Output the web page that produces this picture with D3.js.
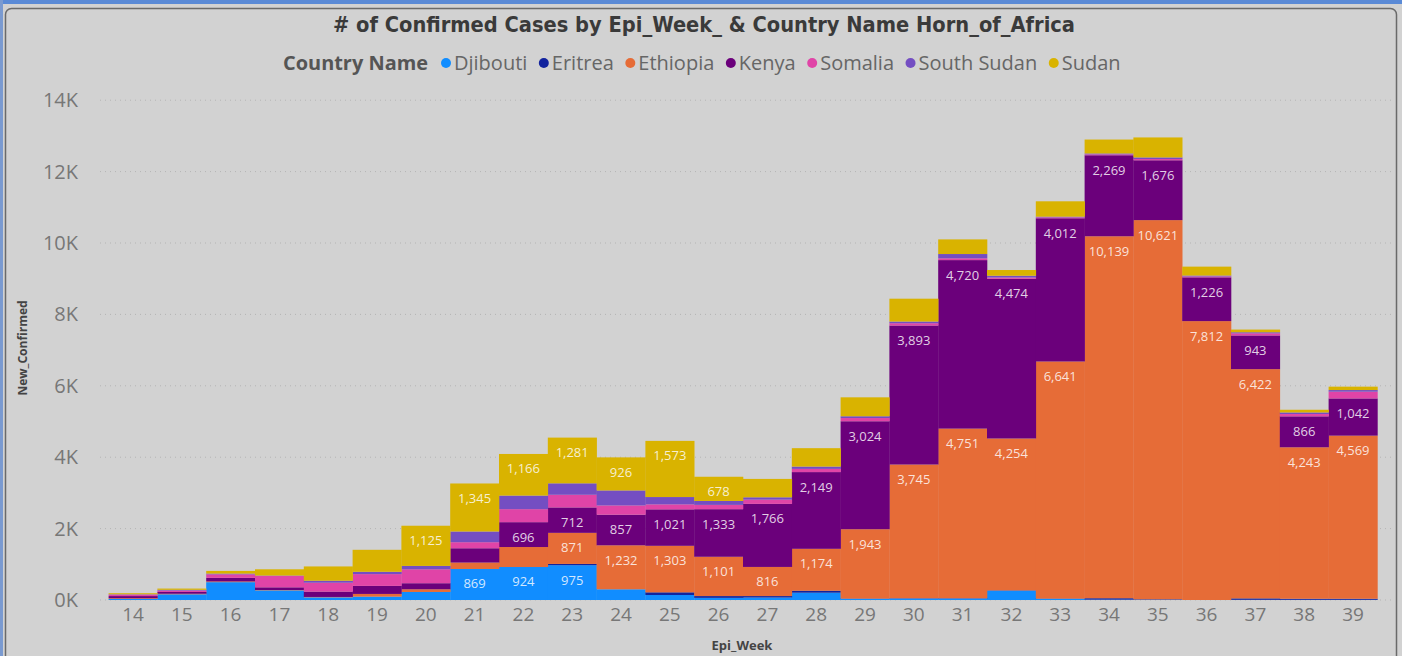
<!DOCTYPE html>
<html><head><meta charset="utf-8">
<script src="https://cdn.jsdelivr.net/npm/d3@7"></script>
<style>
html,body{margin:0;padding:0;background:#d2d2d2;overflow:hidden;}
svg{display:block;}
</style></head>
<body>
<svg id="chart" width="1402" height="656"></svg>
<script>
const weeks = ["14","15","16","17","18","19","20","21","22","23","24","25","26","27","28","29","30","31","32","33","34","35","36","37","38","39"];
const countries = ["Djibouti","Eritrea","Ethiopia","Kenya","Somalia","South Sudan","Sudan"];
const colors = ["#118DFF","#12239E","#E66C37","#6B007B","#E044A7","#744EC2","#D9B300"];
const djibouti   = [30,160,500,270,75,95,225,869,924,975,300,140,60,70,205,30,40,40,260,30,10,5,0,5,5,5];
const eritrea    = [0,0,0,0,0,0,0,0,0,35,0,75,50,40,55,10,10,10,10,10,40,15,0,40,30,30];
const ethiopia   = [20,15,20,10,10,75,75,180,560,871,1232,1303,1101,816,1174,1943,3745,4751,4254,6641,10139,10621,7812,6422,4243,4569];
const kenya      = [60,50,100,75,150,225,170,400,696,712,857,1021,1333,1766,2149,3024,3893,4720,4474,4012,2269,1676,1226,943,866,1042];
const somalia    = [40,40,100,320,250,330,390,170,365,355,260,140,120,120,90,90,65,50,35,25,25,35,25,60,65,190];
const southSudan = [10,20,20,10,55,65,95,300,380,320,420,205,110,65,65,50,47,120,50,20,25,45,25,30,45,45];
const sudan      = [30,35,75,175,400,616,1125,1345,1166,1281,926,1573,678,515,515,530,640,410,160,430,390,560,250,75,75,95];
const yTicks = [0,2000,4000,6000,8000,10000,12000,14000];
const seriesValues = [djibouti,eritrea,ethiopia,kenya,somalia,southSudan,sudan];

const svg = d3.select("#chart");
// frame
svg.append("rect").attr("x",0).attr("y",0).attr("width",1402).attr("height",4).attr("fill","#5a8ad6");
svg.append("rect").attr("x",0).attr("y",0).attr("width",3).attr("height",656).attr("fill","#7a9ad0");
svg.append("rect").attr("x",5.5).attr("y",8.5).attr("width",1391).attr("height",660).attr("rx",6)
  .attr("fill","#d2d2d2").attr("stroke","#6a6a6a").attr("stroke-width",1.5);

const rows = weeks.map((w,i)=>{const r={week:w}; countries.forEach((c,j)=>r[c]=seriesValues[j][i]); return r;});
const stack = d3.stack().keys(countries)(rows);

const x = d3.scaleBand().domain(weeks).range([108.6,1377.4]).padding(0);
const y = d3.scaleLinear().domain([0,14000]).range([600,100.2]);
const color = d3.scaleOrdinal().domain(countries).range(colors);

// gridlines
svg.append("g").selectAll("line").data(yTicks).join("line")
  .attr("x1",100).attr("x2",1392).attr("y1",d=>y(d)).attr("y2",d=>y(d))
  .attr("stroke","#b4b4b4").attr("stroke-width",1).attr("stroke-dasharray","1,4");

// bars
svg.append("g").selectAll("g").data(stack).join("g").attr("fill",d=>color(d.key))
  .selectAll("rect").data(d=>d).join("rect")
  .attr("x",d=>x(d.data.week)).attr("width",x.bandwidth()+0.3)
  .attr("y",d=>y(d[1])).attr("height",d=>Math.max(0,y(d[0])-y(d[1])));

// data labels
const lab = svg.append("g").attr("font-family","'Open Sans','Noto Sans',sans-serif").attr("font-size",13)
  .attr("text-anchor","middle").attr("fill","#ffffff").attr("fill-opacity",0.82);
stack.forEach(s=>{
  s.forEach(d=>{
    const v = d[1]-d[0];
    if (v >= 650) {
      lab.append("text").attr("x",x(d.data.week)+x.bandwidth()/2).attr("y",y(d[1])+16)
        .attr("dominant-baseline","middle").text(d3.format(",")(v));
    }
  });
});

// y axis
const yAxis = svg.append("g").attr("transform","translate(78,0)")
  .call(d3.axisLeft(y).tickValues(yTicks).tickSize(0).tickPadding(0).tickFormat(d=>(d/1000)+"K"));
yAxis.select(".domain").remove();
yAxis.selectAll("text").attr("font-family","'Open Sans','Noto Sans',sans-serif").attr("font-size",20).attr("fill","#777");

// x axis
const xAxis = svg.append("g").attr("transform","translate(0,607)")
  .call(d3.axisBottom(x).tickSize(0).tickPadding(0));
xAxis.select(".domain").remove();
xAxis.selectAll("text").attr("font-family","'Open Sans','Noto Sans',sans-serif").attr("font-size",19).attr("fill","#777").attr("dy","0.75em");

// axis titles
svg.append("text").attr("x",742).attr("y",650).attr("text-anchor","middle")
  .attr("font-family","'Open Sans','Noto Sans',sans-serif").attr("font-weight","bold").attr("font-size",13).attr("fill","#444").text("Epi_Week");
svg.append("text").attr("transform","translate(27,348) rotate(-90)").attr("text-anchor","middle")
  .attr("font-family","'Open Sans','Noto Sans',sans-serif").attr("font-weight","bold").attr("font-size",12).attr("fill","#444").text("New_Confirmed");

// title
svg.append("text").attr("x",704).attr("y",32).attr("text-anchor","middle")
  .attr("font-family","'DejaVu Sans Condensed','Liberation Sans Narrow','Roboto',sans-serif").attr("font-weight","bold")
  .attr("font-size",21).attr("fill","#3a3a3a")
  .attr("textLength",742).attr("lengthAdjust","spacingAndGlyphs")
  .text("# of Confirmed Cases by Epi_Week_ & Country Name Horn_of_Africa");

// legend
const lg = svg.append("g").attr("font-family","'Open Sans','Noto Sans',sans-serif").attr("font-size",20);
lg.append("text").attr("x",283).attr("y",70).attr("font-weight","bold").attr("fill","#555")
  .attr("textLength",145).attr("lengthAdjust","spacingAndGlyphs").text("Country Name");
let lx = 446;
countries.forEach((c,i)=>{
  lg.append("circle").attr("cx",lx).attr("cy",63).attr("r",5).attr("fill",colors[i]);
  const t = lg.append("text").attr("x",lx+8).attr("y",70).attr("fill","#666").text(c);
  const w = t.node().getComputedTextLength();
  lx += 8 + w + 16.5;
});
</script>
</body></html>
